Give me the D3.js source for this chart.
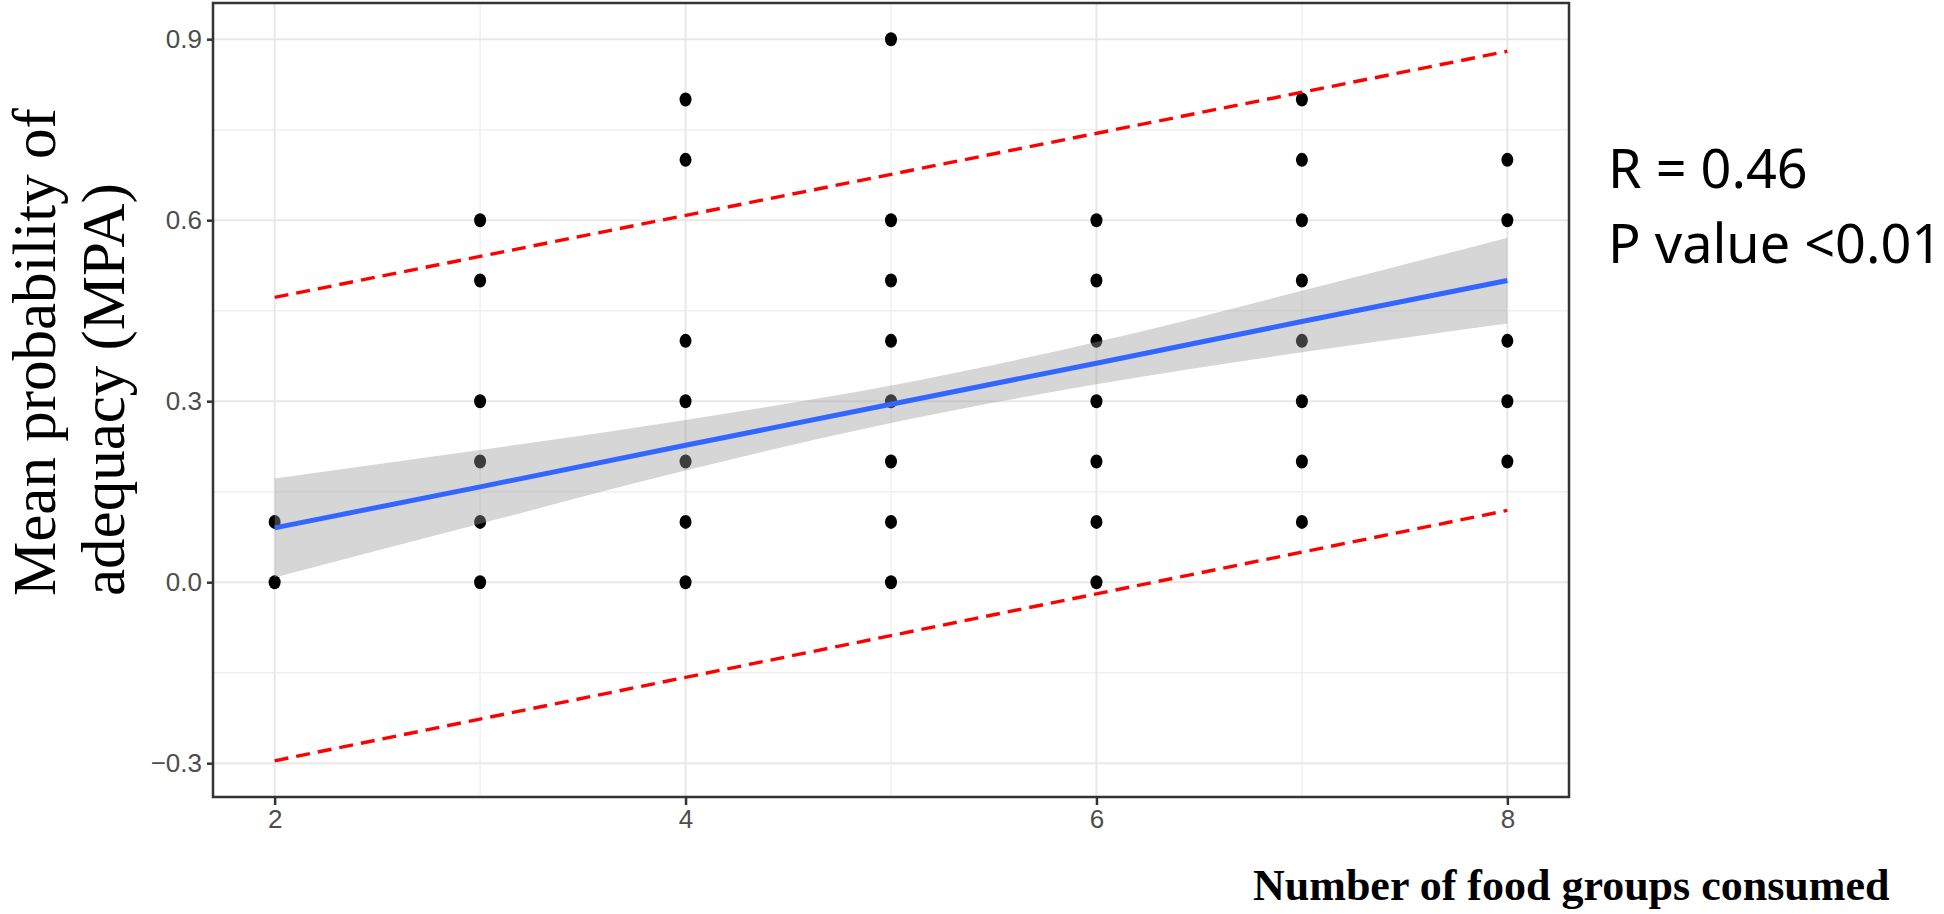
<!DOCTYPE html>
<html>
<head>
<meta charset="utf-8">
<script src="https://cdn.jsdelivr.net/npm/d3@7"></script>
<style>
  body { margin: 0; background: #fff; }
  svg { display: block; }
</style>
</head>
<body>
<div id="chart"></div>
<script>
// food groups (x) and the MPA values seen in each column
var groups = [2, 3, 4, 5, 6, 7, 8];
var mpa_by_group = [
    [0.1, 0.0],
    [0.6, 0.5, 0.3, 0.2, 0.1, 0.0],
    [0.8, 0.7, 0.4, 0.3, 0.2, 0.1, 0.0],
    [0.9, 0.6, 0.5, 0.4, 0.3, 0.2, 0.1, 0.0],
    [0.6, 0.5, 0.4, 0.3, 0.2, 0.1, 0.0],
    [0.8, 0.7, 0.6, 0.5, 0.4, 0.3, 0.2, 0.1],
    [0.7, 0.6, 0.4, 0.3, 0.2]
];

// linear fit with its confidence band, read at each x
var fit = [0.090, 0.158, 0.227, 0.295, 0.363, 0.432, 0.500];
var ci_low = [0.008, 0.097, 0.185, 0.264, 0.328, 0.381, 0.429];
var ci_high = [0.172, 0.219, 0.269, 0.326, 0.398, 0.483, 0.571];

// prediction interval lines (end points)
var pi_x = [2, 8];
var pi_low = [-0.296, 0.119];
var pi_high = [0.472, 0.880];

var y_ticks = [-0.3, 0.0, 0.3, 0.6, 0.9];
var y_minor = [-0.15, 0.15, 0.45, 0.75];
var x_ticks = [2, 4, 6, 8];
var x_minor = [3, 5, 7];

var stats_text = ["R = 0.46", "P value <0.01"];

var svg_width = 1944, svg_height = 914;
var panel = {left: 213, right: 1569, top: 3, bottom: 797};

var svg = d3.select("#chart").append("svg")
    .attr("width", svg_width)
    .attr("height", svg_height);

var x = d3.scaleLinear().domain([1.7, 8.3]).range([panel.left, panel.right]);
var y = d3.scaleLinear().domain([-0.356, 0.96]).range([panel.bottom, panel.top]);

// grid
var grid = svg.append("g");
grid.selectAll(".ymin").data(y_minor).enter().append("line")
    .attr("x1", panel.left).attr("x2", panel.right)
    .attr("y1", d => y(d)).attr("y2", d => y(d))
    .style("stroke", "#f0f0f0").style("stroke-width", 1.5);
grid.selectAll(".xmin").data(x_minor).enter().append("line")
    .attr("y1", panel.top).attr("y2", panel.bottom)
    .attr("x1", d => x(d)).attr("x2", d => x(d))
    .style("stroke", "#f0f0f0").style("stroke-width", 1.5);
grid.selectAll(".ymaj").data(y_ticks).enter().append("line")
    .attr("x1", panel.left).attr("x2", panel.right)
    .attr("y1", d => y(d)).attr("y2", d => y(d))
    .style("stroke", "#e8e8e8").style("stroke-width", 2);
grid.selectAll(".xmaj").data(x_ticks).enter().append("line")
    .attr("y1", panel.top).attr("y2", panel.bottom)
    .attr("x1", d => x(d)).attr("x2", d => x(d))
    .style("stroke", "#e8e8e8").style("stroke-width", 2);

// points
var pts = [];
groups.forEach(function(g, i) {
    mpa_by_group[i].forEach(function(v) { pts.push({x: g, y: v}); });
});
svg.append("g").selectAll("ellipse").data(pts).enter().append("ellipse")
    .attr("cx", d => x(d.x))
    .attr("cy", d => y(d.y))
    .attr("rx", 6).attr("ry", 7)
    .style("fill", "#000");

// confidence ribbon on top of points (like geom_smooth)
var band = groups.map((g, i) => ({x: g, lo: ci_low[i], hi: ci_high[i], fit: fit[i]}));
var area = d3.area()
    .x(d => x(d.x))
    .y0(d => y(d.lo))
    .y1(d => y(d.hi))
    .curve(d3.curveMonotoneX);
svg.append("path").datum(band)
    .attr("d", area)
    .style("fill", "#999999").style("fill-opacity", 0.4);

svg.append("path").datum(band)
    .attr("d", d3.line().x(d => x(d.x)).y(d => y(d.fit)))
    .style("fill", "none").style("stroke", "#3366FF").style("stroke-width", 5);

// prediction lines
[pi_low, pi_high].forEach(function(arr) {
    svg.append("path").datum(pi_x.map((v, i) => [v, arr[i]]))
        .attr("d", d3.line().x(d => x(d[0])).y(d => y(d[1])))
        .style("fill", "none").style("stroke", "#ff0000")
        .style("stroke-width", 3.4).style("stroke-dasharray", "14,8");
});

// panel border
svg.append("rect")
    .attr("x", panel.left).attr("y", panel.top)
    .attr("width", panel.right - panel.left)
    .attr("height", panel.bottom - panel.top)
    .style("fill", "none").style("stroke", "#333").style("stroke-width", 2.5);

// axes
var yAxis = svg.append("g")
    .attr("transform", "translate(" + panel.left + ",0)")
    .call(d3.axisLeft(y).tickValues(y_ticks).tickFormat(d3.format(".1f")).tickSize(6).tickPadding(5));
var xAxis = svg.append("g")
    .attr("transform", "translate(0," + panel.bottom + ")")
    .call(d3.axisBottom(x).tickValues(x_ticks).tickFormat(d3.format("d")).tickSize(8).tickPadding(5));

[yAxis, xAxis].forEach(function(a) {
    a.select(".domain").remove();
    a.selectAll(".tick line").style("stroke", "#333").style("stroke-width", 2.5);
    a.selectAll("text")
        .style("font-family", "'Liberation Sans Narrow', 'Liberation Sans', Arial, sans-serif")
        .style("font-size", "26px")
        .style("fill", "#4d4d4d");
});
yAxis.selectAll("text").text(d => d3.format(".1f")(d).replace("-", "\u2212"));

// axis titles
var ytitle = svg.append("text")
    .attr("transform", "translate(55,596) rotate(-90)")
    .style("font-family", "'Liberation Serif', 'Times New Roman', serif")
    .style("font-size", "61px")
    .style("fill", "#000");
ytitle.append("tspan").attr("x", 0).attr("y", 0).text("Mean probability of");
ytitle.append("tspan").attr("x", 0).attr("y", 69).text("adequacy (MPA)");

svg.append("text")
    .attr("x", 1253).attr("y", 900)
    .style("font-family", "'Liberation Serif', 'Times New Roman', serif")
    .style("font-size", "44px")
    .style("font-weight", "bold")
    .text("Number of food groups consumed");

// stats annotation
svg.selectAll(".stat").data(stats_text).enter().append("text")
    .attr("x", 1608)
    .attr("y", (d, i) => 188 + i * 75)
    .style("font-family", "'Noto Sans', 'Open Sans', sans-serif")
    .style("font-size", "54px")
    .style("fill", "#000")
    .text(d => d);
</script>
</body>
</html>
